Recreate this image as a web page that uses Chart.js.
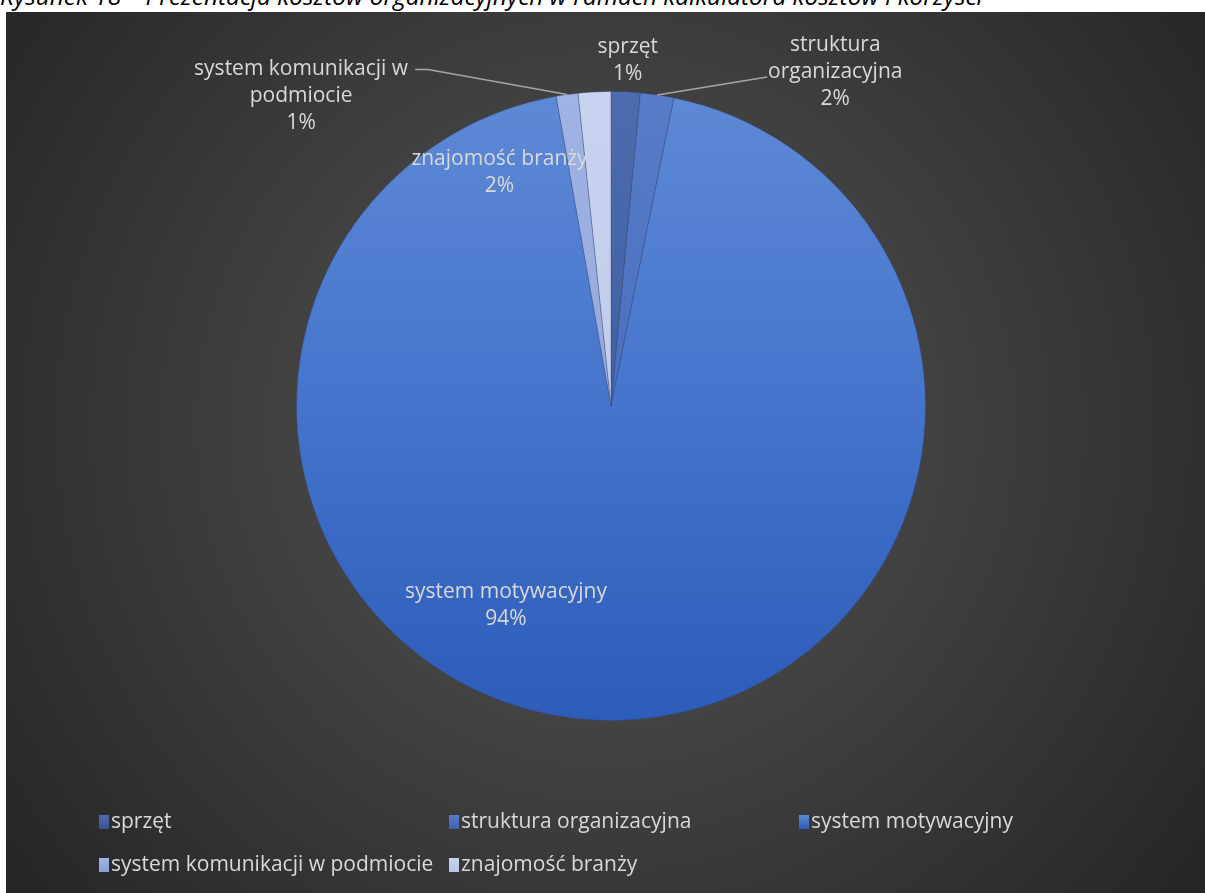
<!DOCTYPE html>
<html lang="pl">
<head>
<meta charset="utf-8">
<title>Koszty organizacyjne</title>
<script src="https://cdn.jsdelivr.net/npm/chart.js@4.4.1/dist/chart.umd.min.js"></script>
<style>
  html, body { margin: 0; padding: 0; background: #fff; overflow: hidden; }
  body { width: 1205px; height: 893px; position: relative; }
  #caption {
    position: absolute; left: 0; top: -18px;
    font: italic 24.4px "Open Sans", "Liberation Sans", sans-serif;
    line-height: 28px; color: #000; white-space: nowrap;
  }
  #wrap { position: absolute; left: 6px; top: 12px; width: 1199px; height: 881px; }
</style>
</head>
<body>
<div id="caption">Rysunek 18 – Prezentacja kosztów organizacyjnych w ramach kalkulatora kosztów i korzyści</div>
<div id="wrap"><canvas id="myChart" width="1199" height="881"></canvas></div>
<script>
// udział poszczególnych kosztów (%)
const categories = ['sprzęt', 'struktura organizacyjna', 'system motywacyjny', 'system komunikacji w podmiocie', 'znajomość branży'];
const shares = [1.49, 1.72, 94.0, 1.12, 1.67];

// kolory wycinków: góra / środek / dół gradientu
const colTop = ['#4d6cad', '#587cc8', '#5e89d6', '#9fb3e4', '#c9d3ef'];
const colMid = ['#40609f', '#4a6fbd', '#4474cc', '#95a9dc', '#c2cdeb'];
const colBottom = ['#36548f', '#3d62b0', '#2d5cb9', '#8b9fd4', '#b9c5e6'];

// teksty etykiet (wiersze) i ich położenie względem krawędzi wycinka
const labelLines = [
  ['sprzęt', '1%'],
  ['struktura', 'organizacyjna', '2%'],
  ['system motywacyjny', '94%'],
  ['system komunikacji w', 'podmiocie', '1%'],
  ['znajomość branży', '2%']
];
const labelPlace = [
  { r: 1, dx: 2, dy: -31, leader: null },
  { r: 1, dx: 178, dy: -23, leader: [[110, -18]] },
  { r: 0, dx: -105, dy: 200, leader: null },
  { r: 1, dx: -266, dy: 1, leader: [[-139, -25], [-152, -25]] },
  { r: 1, dx: -95, dy: 81, leader: null }
];
const legendCols = 3, legendX = 93, legendColW = 350, legendY = 810, legendRowH = 43;

const FONT = '"Open Sans", "Liberation Sans", sans-serif';
const TEXT = '#d9d9d9';

function sliceFill(context) {
  const i = context.dataIndex;
  const a = context.chart.chartArea;
  if (!a) return colMid[i];
  const g = context.chart.ctx.createLinearGradient(0, a.top, 0, a.bottom);
  g.addColorStop(0, colTop[i]);
  g.addColorStop(0.5, colMid[i]);
  g.addColorStop(1, colBottom[i]);
  return g;
}

const background = {
  id: 'background',
  beforeDraw(chart) {
    const ctx = chart.ctx;
    const w = chart.width, h = chart.height;
    ctx.save();
    const g = ctx.createRadialGradient(w * 0.5, h * 0.47, 0, w * 0.5, h * 0.47, w * 0.62);
    g.addColorStop(0, '#565656');
    g.addColorStop(1, '#262626');
    ctx.fillStyle = g;
    ctx.fillRect(0, 0, w, h);
    ctx.restore();
  }
};

const sliceLabels = {
  id: 'sliceLabels',
  afterDatasetsDraw(chart) {
    const ctx = chart.ctx;
    const arcs = chart.getDatasetMeta(0).data;
    ctx.save();
    ctx.font = '21px ' + FONT;
    ctx.textAlign = 'center';
    ctx.textBaseline = 'middle';
    arcs.forEach((arc, i) => {
      const p = arc.getProps(['x', 'y', 'startAngle', 'endAngle', 'outerRadius'], true);
      const mid = (p.startAngle + p.endAngle) / 2;
      const place = labelPlace[i];
      const ex = p.x + Math.cos(mid) * p.outerRadius * place.r;
      const ey = p.y + Math.sin(mid) * p.outerRadius * place.r;
      if (place.leader) {
        ctx.strokeStyle = '#a6a6a6';
        ctx.lineWidth = 1.5;
        ctx.beginPath();
        ctx.moveTo(ex, ey);
        place.leader.forEach(([lx, ly]) => ctx.lineTo(ex + lx, ey + ly));
        ctx.stroke();
      }
      const lines = labelLines[i];
      const lh = 27;
      const cx = ex + place.dx;
      const cy = ey + place.dy - (lines.length - 1) * lh / 2;
      ctx.fillStyle = TEXT;
      lines.forEach((t, k) => ctx.fillText(t, cx, cy + k * lh));
    });
    ctx.restore();
  }
};

const bottomLegend = {
  id: 'bottomLegend',
  afterDraw(chart) {
    const ctx = chart.ctx;
    ctx.save();
    ctx.font = '21px ' + FONT;
    ctx.textBaseline = 'middle';
    ctx.textAlign = 'left';
    chart.data.labels.forEach((name, i) => {
      const x = legendX + (i % legendCols) * legendColW;
      const y = legendY + Math.floor(i / legendCols) * legendRowH;
      const g = ctx.createLinearGradient(0, y - 7, 0, y + 7);
      g.addColorStop(0, colTop[i]);
      g.addColorStop(1, colBottom[i]);
      ctx.fillStyle = g;
      ctx.fillRect(x, y - 7, 10, 14);
      ctx.fillStyle = TEXT;
      ctx.fillText(name, x + 12, y);
    });
    ctx.restore();
  }
};

new Chart(document.getElementById('myChart'), {
  type: 'pie',
  data: {
    labels: categories,
    datasets: [{
      data: shares,
      backgroundColor: sliceFill,
      borderColor: 'rgba(45, 65, 120, 0.35)',
      borderWidth: 1
    }]
  },
  options: {
    responsive: false,
    animation: false,
    layout: { padding: { left: 11, right: 0, top: 79, bottom: 172 } },
    plugins: {
      legend: { display: false },
      tooltip: { enabled: false }
    }
  },
  plugins: [background, sliceLabels, bottomLegend]
});
</script>
</body>
</html>
